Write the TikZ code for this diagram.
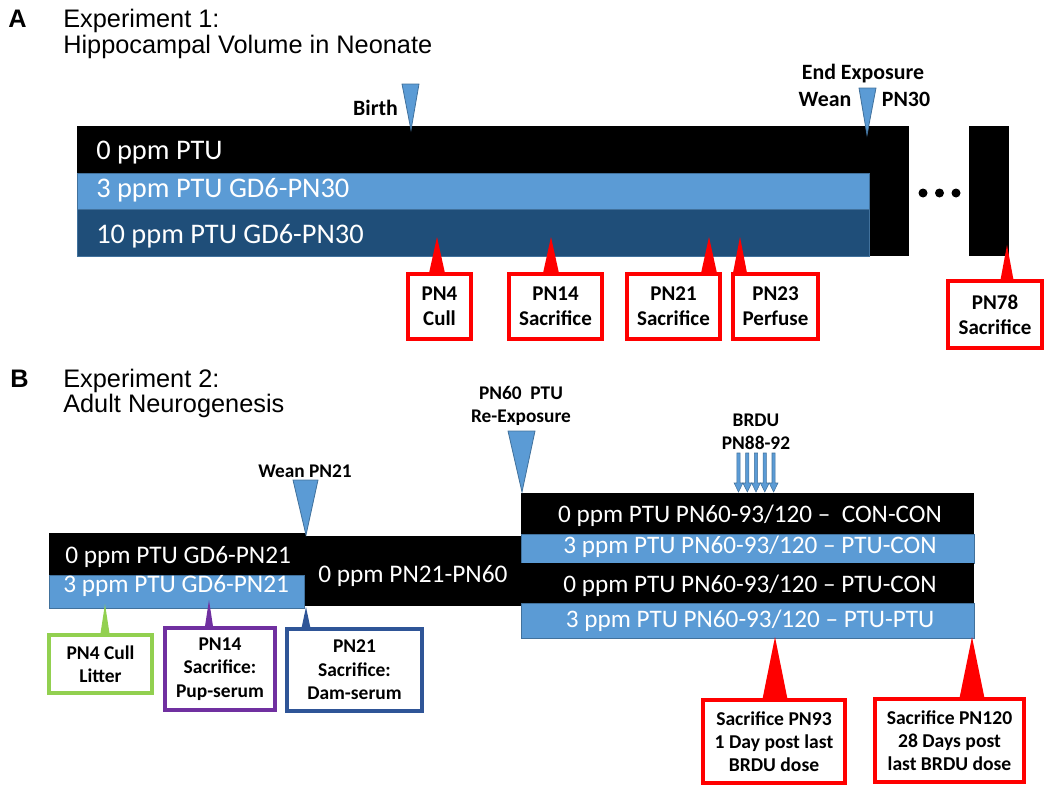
\documentclass[tikz,border=0pt]{standalone}
\usepackage{fontspec}
\setmainfont{Carlito}
\newfontfamily\arialf{Liberation Sans}
\usetikzlibrary{calc}
\definecolor{lblue}{HTML}{5B9BD5}
\definecolor{dblue}{HTML}{1F4E79}
\definecolor{tedge}{HTML}{41719C}
\definecolor{cgreen}{HTML}{92D050}
\definecolor{cpurple}{HTML}{7030A0}
\definecolor{cnavy}{HTML}{2F5597}
\newcommand\calltri[4]{\fill[#1] ($(#2 |- #3.north)+(-#4,1.5)$) -- (#2) -- ($(#2 |- #3.north)+(#4,1.5)$) -- cycle;}
\tikzset{
  hdr/.style={font=\arialf\fontsize{19}{22}\selectfont, anchor=base west, inner sep=0},
  hdrb/.style={font=\arialf\bfseries\fontsize{19}{22}\selectfont, anchor=base west, inner sep=0},
  bartxt/.style={text=white, anchor=base west, inner sep=0, font=\fontsize{19}{22}\selectfont},
  bartxta/.style={bartxt, font=\fontsize{21.3}{24}\selectfont},
  bartxtc/.style={text=white, anchor=base, inner sep=0, font=\fontsize{18.9}{22}\selectfont},
  lbl/.style={font=\bfseries\fontsize{14.5}{17}\selectfont, inner sep=0, anchor=base},
  lbla/.style={lbl, font=\bfseries\fontsize{16.4}{19}\selectfont},
  cbox/.style={draw=#1, line width=2.3pt, fill=white, align=center, inner sep=0, outer sep=0,
    font=\bfseries\fontsize{15.75}{18.75}\selectfont},
  cboxs/.style={cbox=#1, font=\bfseries\fontsize{14.6}{17.6}\selectfont},
  cboxr/.style={cbox=#1, font=\bfseries\fontsize{14.7}{17.3}\selectfont},
  tri/.style={fill=lblue, draw=tedge, line width=0.6pt, line join=miter},
  bluebar/.style={fill=lblue, draw=tedge, line width=0.4pt},
}
\begin{document}
\begin{tikzpicture}[x=0.75pt,y=-0.75pt]
\useasboundingbox (0,0) rectangle (1050,789);

% ---------------- Section A ----------------
\node[hdrb] (la) at (8,27) {A};
\node[hdr] (e1) at (63,27) {Experiment 1:};
\node[hdr] (e1b) at (63,53) {Hippocampal Volume in Neonate};

\fill[black] (77,126) rectangle (909,256);
\filldraw[bluebar] (77,173) rectangle (869,209);
\filldraw[fill=dblue, draw=tedge, line width=0.4pt] (77,209) rectangle (869,256);
\fill[black] (969,126) rectangle (1009,256);
\foreach \x in {923,939.5,956} \fill[black] (\x,193) circle[radius=4.5];

\node[bartxta] (a0) at (96,159) {0 ppm PTU};
\node[bartxta] (a3) at (96,197) {3 ppm PTU GD6-PN30};
\node[bartxta] (a10) at (96,243) {10 ppm PTU GD6-PN30};

\coordinate (birthtip) at (411,130);
\filldraw[tri] (402,84) -- (birthtip) -- (419,84) -- cycle;
\node[lbla] (birth) at (375.5,115) {Birth};

\coordinate (endtip) at (867,135);
\filldraw[tri] (859,88) -- (endtip) -- (876,88) -- cycle;
\node[lbla] (endexp) at (863,79) {End Exposure};
\node[lbla] (wean) at (825,106) {Wean};
\node[lbla] (pn30) at (906,106) {PN30};

\node[cbox=red, minimum width={63*0.75pt}, minimum height={65*0.75pt}] (pn4) at (439.5,306.5) {PN4\\Cull};
\node[cbox=red, minimum width={93*0.75pt}, minimum height={65*0.75pt}] (pn14) at (555.5,306.5) {PN14\\Sacrifice};
\node[cbox=red, minimum width={93*0.75pt}, minimum height={65*0.75pt}] (pn21) at (673.5,306.5) {PN21\\Sacrifice};
\node[cbox=red, minimum width={85*0.75pt}, minimum height={65*0.75pt}] (pn23) at (775.5,306.5) {PN23\\Perfuse};
\node[cbox=red, minimum width={94*0.75pt}, minimum height={67*0.75pt}] (pn78) at (995,314.5) {PN78\\Sacrifice};
\coordinate (t4) at (437,237);
\coordinate (t14) at (551,237);
\coordinate (t21) at (709,237);
\coordinate (t23) at (740,237);
\coordinate (t78) at (1007,245);
\calltri{red}{t4}{pn4}{8.5}
\calltri{red}{t14}{pn14}{8.5}
\calltri{red}{t21}{pn21}{8.5}
\calltri{red}{t23}{pn23}{7.5}
\calltri{red}{t78}{pn78}{7}

% ---------------- Section B ----------------
\node[hdrb] (lb) at (10,387) {B};
\node[hdr] (e2) at (63,387) {Experiment 2:};
\node[hdr] (e2b) at (63,412) {Adult Neurogenesis};

\fill[black] (304,536) rectangle (521,606);
\fill[black] (49,533) rectangle (306,575);
\filldraw[bluebar] (49,575) rectangle (304,608);

\fill[black] (521,493) rectangle (974,534);
\filldraw[bluebar] (521,534) rectangle (974,563);
\fill[black] (521,563) rectangle (974,603);
\filldraw[bluebar] (521,603) rectangle (974,638);

\node[bartxt] (b0) at (65,563) {0 ppm PTU GD6-PN21};
\node[bartxt] (b3) at (63,592) {3 ppm PTU GD6-PN21};
\node[bartxt] (bmid) at (318,582) {0 ppm PN21-PN60};
\node[bartxtc] (r1) at (750,522) {0 ppm PTU PN60-93/120 –\ \ CON-CON};
\node[bartxtc] (r2) at (750,553) {3 ppm PTU PN60-93/120 – PTU-CON};
\node[bartxtc] (r3) at (750,592) {0 ppm PTU PN60-93/120 – PTU-CON};
\node[bartxtc] (r4) at (750,627) {3 ppm PTU PN60-93/120 – PTU-PTU};

\coordinate (weantip) at (306,535);
\filldraw[tri] (293,480) -- (weantip) -- (318,480) -- cycle;
\node[lbl] (wean21) at (305,477) {Wean PN21};

\coordinate (pn60tip) at (522,492);
\filldraw[tri] (508,431) -- (pn60tip) -- (535,431) -- cycle;
\node[lbl] (pn60) at (521,399) {PN60\ \ PTU};
\node[lbl] (reexp) at (521,422) {Re-Exposure};

\node[lbl] (brdu) at (756,426) {BRDU};
\node[lbl] (pn88) at (756,449) {PN88-92};
\foreach \x in {738.5,747.3,756,764.8,773.6}
  \filldraw[fill=lblue, draw=tedge, line width=0.4pt, line join=miter]
    (\x-1.6,453) -- (\x+1.6,453) -- (\x+1.6,483) -- (\x+4.4,483) -- (\x,492)
    -- (\x-4.4,483) -- (\x-1.6,483) -- cycle;

\node[cboxs=cgreen, minimum width={103*0.75pt}, minimum height={58*0.75pt}] (cull) at (100.5,664) {PN4 Cull\\Litter};
\node[cboxs=cpurple, minimum width={110*0.75pt}, minimum height={82*0.75pt}] (pup) at (220,669) {PN14\\Sacrifice:\\Pup-serum};
\node[cboxs=cnavy, minimum width={135*0.75pt}, minimum height={82*0.75pt}] (dam) at (354.5,670) {PN21\\Sacrifice:\\Dam-serum};
\coordinate (tcull) at (105,604);
\coordinate (tpup) at (209,600);
\coordinate (tdam) at (306,607);
\calltri{cgreen}{tcull}{cull}{5}
\calltri{cpurple}{tpup}{pup}{4.5}
\calltri{cnavy}{tdam}{dam}{5}

\node[cboxr=red, minimum width={142*0.75pt}, minimum height={83*0.75pt}] (s93) at (774,741.5) {Sacrifice PN93\\1 Day post last\\BRDU dose};
\node[cboxr=red, minimum width={149*0.75pt}, minimum height={83*0.75pt}] (s120) at (949.5,740.5) {Sacrifice PN120\\28 Days post\\last BRDU dose};
\coordinate (t93) at (775,637);
\coordinate (t120) at (972,637);
\calltri{red}{t93}{s93}{13}
\calltri{red}{t120}{s120}{13}
\end{tikzpicture}
\end{document}
